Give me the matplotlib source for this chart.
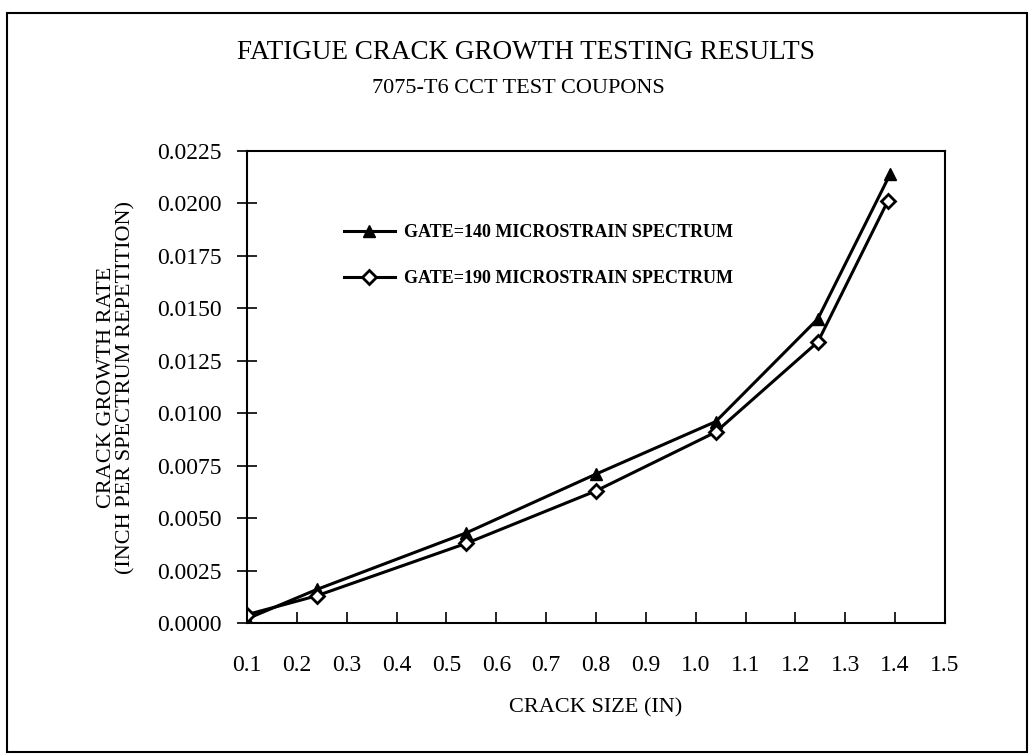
import numpy as np
import matplotlib.pyplot as plt
from matplotlib.patches import Rectangle

crack_size_140 = [0.10, 0.24, 0.54, 0.80, 1.04, 1.245, 1.39]
rate_140 = [0.0002, 0.0016, 0.0043, 0.0071, 0.0096, 0.0145, 0.0214]
crack_size_190 = [0.10, 0.24, 0.54, 0.80, 1.04, 1.245, 1.385]
rate_190 = [0.0004, 0.0013, 0.0038, 0.0063, 0.0091, 0.0134, 0.0201]
labels = ['GATE=140 MICROSTRAIN SPECTRUM', 'GATE=190 MICROSTRAIN SPECTRUM']
x_ticks = np.arange(0.1, 1.51, 0.1)
y_ticks = np.arange(0, 0.02251, 0.0025)

plt.rcParams['font.family'] = ['Liberation Serif', 'DejaVu Serif']

fig = plt.figure(figsize=(10.31, 7.55), dpi=100)
# outer frame around the whole chart
fig.patches.append(Rectangle((0.0068, 0.004), 0.989, 0.979, transform=fig.transFigure,
                             fill=False, edgecolor='black', linewidth=1.5))
ax = fig.add_axes([0.2396, 0.1748, 0.677, 0.6252])

ax.plot(crack_size_140, rate_140, color='black', lw=2.2, marker='^', ms=9,
        mfc='black', mec='black', label=labels[0])
ax.plot(crack_size_190, rate_190, color='black', lw=2.2, marker='D', ms=7,
        mfc='white', mec='black', mew=2, label=labels[1])

ax.set_xlim(0.1, 1.5)
ax.set_ylim(0, 0.0225)
ax.set_xticks(x_ticks)
ax.set_xticklabels([f'{v:.1f}' for v in x_ticks])
ax.set_yticks(y_ticks)
ax.set_yticklabels([f'{v:.4f}' for v in y_ticks])
ax.tick_params(axis='x', direction='in', length=8, width=1.2, labelsize=17, pad=23)
ax.tick_params(axis='y', direction='inout', length=14, width=1.2, labelsize=17, pad=11)
for s in ax.spines.values():
    s.set_linewidth(1.5)

ax.set_xlabel('CRACK SIZE (IN)', fontsize=16, labelpad=16)
ax.set_ylabel('CRACK GROWTH RATE\n(INCH PER SPECTRUM REPETITION)', fontsize=16, labelpad=16,
              linespacing=1.0)

fig.text(0.51, 0.930, 'FATIGUE CRACK GROWTH TESTING RESULTS', ha='center', va='center',
         fontsize=19.5)
fig.text(0.503, 0.883, '7075-T6 CCT TEST COUPONS', ha='center', va='center', fontsize=16)

ax.legend(loc='center left', bbox_to_anchor=(0.139, 0.778), frameon=False,
          prop={'weight': 'bold', 'size': 13}, handlelength=2.8, handletextpad=0.5,
          labelspacing=1.6, borderpad=0, borderaxespad=0)

fig.savefig('out.png', dpi=100)
